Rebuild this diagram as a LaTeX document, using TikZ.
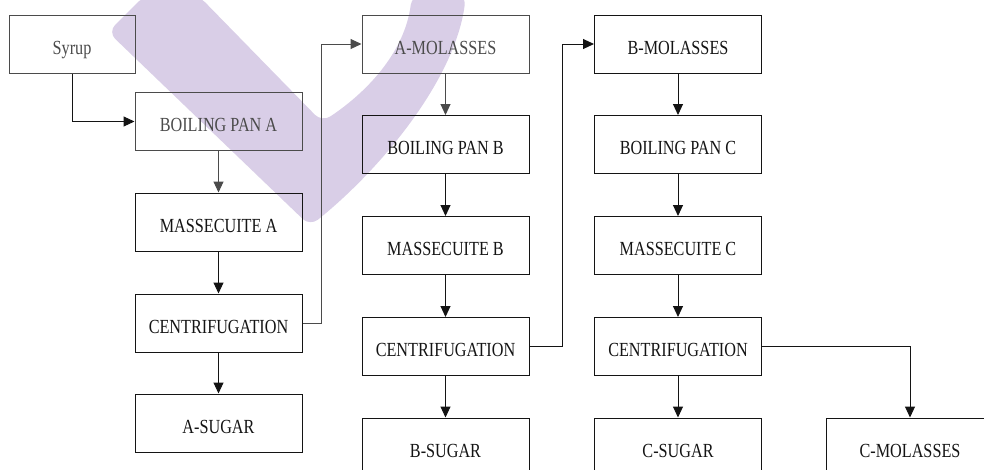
\documentclass[tikz,border=0pt]{standalone}
\usepackage{fontspec}
\setmainfont{Liberation Serif}[FakeStretch=0.81]
\usetikzlibrary{arrows.meta}

\definecolor{ink}{RGB}{20,20,20}
\definecolor{soft}{RGB}{75,75,75}
\definecolor{lavender}{RGB}{217,206,231}

\begin{document}
\begin{tikzpicture}[x=1pt,y=-1pt,
  box/.style={draw=ink, line width=1pt, minimum width=167pt, minimum height=58pt,
    inner sep=0pt, text height=20.3pt, text depth=0pt, text=ink,
    font=\fontsize{20}{24}\selectfont},
  softbox/.style={box, draw=soft, text=soft},
  flow/.style={draw=ink, line width=1pt, -{Triangle[length=11pt,width=10pt]}},
  softflow/.style={flow, draw=soft}]
\useasboundingbox (0,0) rectangle (984,469);

% faint logo mark in the background
\begin{scope}
  \clip (0,0) rectangle (984,469);
  \fill[lavender, rounded corners=10pt]
    (108,32) -- (145,-5) -- (198,-5) -- (322,122)
    .. controls (370,90) and (405,50) .. (412,-5)
    -- (466,-5)
    .. controls (455,80) and (380,170) .. (310,226)
    -- cycle;
\end{scope}

% column A
\node[softbox, minimum width=126pt] (syr) at (72,44) {Syrup};
\node[softbox] (bpa) at (218.5,121.5) {BOILING PAN A};
\node[box] (ma) at (218.5,222) {MASSECUITE A};
\node[box] (ca) at (218.5,323) {CENTRIFUGATION};
\node[box] (as) at (218.5,423) {A-SUGAR};

% column B
\node[softbox] (amol) at (445.5,44) {A-MOLASSES};
\node[box] (bpb) at (445.5,144.5) {BOILING PAN B};
\node[box] (mb) at (445.5,245.5) {MASSECUITE B};
\node[box] (cb) at (445.5,346.5) {CENTRIFUGATION};
\node[box] (bs) at (445.5,447) {B-SUGAR};

% column C
\node[box] (bmol) at (678,44) {B-MOLASSES};
\node[box] (bpc) at (678,144.5) {BOILING PAN C};
\node[box] (mc) at (678,245.5) {MASSECUITE C};
\node[box] (cc) at (678,346.5) {CENTRIFUGATION};
\node[box] (csug) at (678,447) {C-SUGAR};
\node[box] (cmol) at (910,447) {C-MOLASSES};

% connectors
\draw[flow] (syr.south) |- (bpa.west);
\draw[softflow] (bpa.south) -- (ma.north);
\draw[flow] (ma.south) -- (ca.north);
\draw[flow] (ca.south) -- (as.north);
\draw[softflow] (ca.east) -- ++(19,0) |- (amol.west);

\draw[softflow] (amol.south) -- (bpb.north);
\draw[flow] (bpb.south) -- (mb.north);
\draw[flow] (mb.south) -- (cb.north);
\draw[flow] (cb.south) -- (bs.north);
\draw[flow] (cb.east) -- ++(33,0) |- (bmol.west);

\draw[flow] (bmol.south) -- (bpc.north);
\draw[flow] (bpc.south) -- (mc.north);
\draw[flow] (mc.south) -- (cc.north);
\draw[flow] (cc.south) -- (csug.north);
\draw[flow] (cc.east) -| (cmol.north);
\end{tikzpicture}
\end{document}
